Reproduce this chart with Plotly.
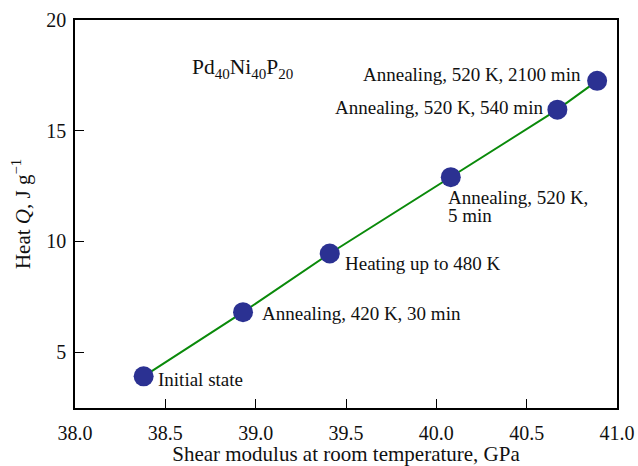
import plotly.graph_objects as go

# Shear modulus (GPa) vs. heat release (J/g) for Pd40Ni40P20 after various treatments
shear_modulus = [38.38, 38.93, 39.41, 40.08, 40.67, 40.89]
heat_q = [3.9, 6.8, 9.45, 12.9, 15.95, 17.25]
states = [
    "Initial state",
    "Annealing, 420 K, 30 min",
    "Heating up to 480 K",
    "Annealing, 520 K,<br>5 min",
    "Annealing, 520 K, 540 min",
    "Annealing, 520 K, 2100 min",
]
x_ticks = [38.0, 38.5, 39.0, 39.5, 40.0, 40.5, 41.0]
y_ticks = [5, 10, 15, 20]

FONT = "Liberation Serif"
LABEL_PX = 19

fig = go.Figure()
fig.add_trace(go.Scatter(
    x=shear_modulus, y=heat_q, mode="lines+markers",
    line=dict(color="#0a8a0a", width=2),
    marker=dict(color="#2b3192", size=20, line=dict(width=0)),
    showlegend=False, hoverinfo="skip",
))

# label placement per point: (xanchor, yanchor, xshift, yshift)
placement = [
    ("left", "middle", 12, -3),
    ("left", "middle", 17, -1),
    ("left", "middle", 13, -10),
    ("left", "top", -5, -8),
    ("right", "middle", -12, 2),
    ("right", "middle", -14, 6),
]
for xv, yv, txt, (xa, ya, xs, ys) in zip(shear_modulus, heat_q, states, placement):
    # base font size sets the tight line pitch of wrapped labels;
    # each line is then drawn at the full label size
    lines = [f"<span style='font-size:{LABEL_PX}px'>{p}</span>" for p in txt.split("<br>")]
    fig.add_annotation(
        x=xv, y=yv, text="<br>".join(lines), showarrow=False,
        xanchor=xa, yanchor=ya, xshift=xs, yshift=ys, align="left",
        font=dict(family=FONT, size=14, color="#111"),
    )

fig.add_annotation(
    x=0.212, y=0.876, xref="paper", yref="paper",
    text="Pd<sub>40</sub>Ni<sub>40</sub>P<sub>20</sub>", showarrow=False,
    xanchor="left", yanchor="middle",
    font=dict(family=FONT, size=21.5, color="#111"),
)

axis_common = dict(
    showgrid=False, zeroline=False, showline=True, linecolor="black", linewidth=1.5,
    mirror=True, ticks="inside", ticklen=9, tickwidth=1.3, tickcolor="black",
    tickfont=dict(family=FONT, size=20, color="#111"), automargin=False,
)

fig.update_layout(
    width=638, height=466,
    margin=dict(l=75, r=21, t=20, b=58),
    paper_bgcolor="white", plot_bgcolor="white",
    xaxis=dict(
        range=[38.0, 41.0], tickvals=x_ticks,
        ticktext=[f"{v:.1f}" for v in x_ticks],
        ticklabelstandoff=6,
        title=dict(text="Shear modulus at room temperature, GPa",
                   font=dict(family=FONT, size=21, color="#111"), standoff=7),
        **axis_common,
    ),
    yaxis=dict(
        range=[2.47, 20], tickvals=y_ticks,
        ticklabelstandoff=3,
        title=dict(text="Heat <i>Q</i>, J g<sup>\u22121</sup>",
                   font=dict(family=FONT, size=21, color="#111"), standoff=10),
        **axis_common,
    ),
)

fig.write_html("out.html")
